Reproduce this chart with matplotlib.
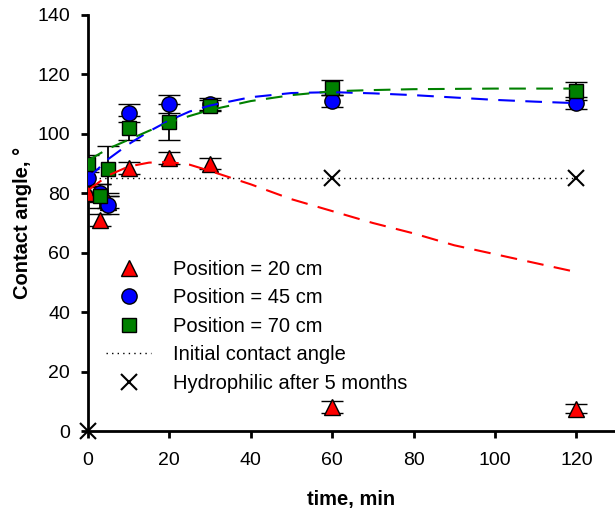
import numpy as np
import matplotlib
matplotlib.use('Agg')
import matplotlib.pyplot as plt
from matplotlib.lines import Line2D

plt.rcParams['font.family'] = ['Liberation Sans', 'DejaVu Sans']

# measured points
t = [0, 3, 5, 10, 20, 30, 60, 120]
pos20 = [80, 71, 77, 88.5, 92, 90, 8, 7.5]
pos20_err = [2.5, 2, 2, 2, 2, 2, 2, 1.5]
pos45 = [85, 80, 76, 107, 110, 110, 111, 110.5]
pos45_err = [3, 3, 3, 3, 3, 2, 2, 2]
pos70 = [90, 79, 88, 102, 104, 109.5, 115.5, 114.5]
pos70_err = [3, 4, 8, 4, 6, 2, 2.5, 3]

# fitted curves
fit_t = [0, 5, 10, 15, 20, 25, 30, 40, 50, 60, 70, 80, 90, 100, 110, 120]
fit20 = [81, 86, 89, 90.3, 90.5, 89.6, 87.5, 83, 78, 74, 70, 66.5, 62.5, 59.5, 56.5, 53.5]
fit45 = [85, 91.5, 96.5, 100.8, 104.5, 107.5, 109.5, 112.3, 113.7, 114, 113.6, 113, 112.2, 111.4, 110.8, 110.3]
fit70 = [91, 95, 98, 101, 103.8, 106, 108, 111, 113, 114.3, 114.7, 115, 115.1, 115.2, 115.2, 115.2]

initial_t = [0, 120]
initial_angle = [85, 85]
hydro_t = [0, 60, 120]
hydro_angle = [0, 85, 85]

fig = plt.figure(figsize=(6.15, 5.12), dpi=100)
ax = fig.add_axes([0.143, 0.158, 0.857, 0.813])

ebkw = dict(ecolor='k', elinewidth=1.3, capsize=8, capthick=1.3, linestyle='none',
            markeredgecolor='k', markeredgewidth=1, zorder=3)
ax.errorbar(t, pos20, yerr=pos20_err, marker='^', color='red', markersize=12, **ebkw)
ax.errorbar(t, pos45, yerr=pos45_err, marker='o', color='blue', markersize=11, **ebkw)
ax.errorbar(t, pos70, yerr=pos70_err, marker='s', color='green', markersize=10, **ebkw)

dash = (0, (8, 5))
ax.plot(fit_t, fit20, color='red', ls=dash, lw=1.5, zorder=4)
ax.plot(fit_t, fit45, color='blue', ls=dash, lw=1.5, zorder=4)
ax.plot(fit_t, fit70, color='green', ls=dash, lw=1.5, zorder=4)

ax.plot(initial_t, initial_angle, color='k', ls=(0, (1, 3)), lw=1, zorder=2)
ax.plot(hydro_t, hydro_angle, 'x', color='k', markersize=12, mew=1.5,
        clip_on=False, zorder=5)

ax.set_xlim(0, 129.5)
ax.set_ylim(0, 140)
ax.set_xticks(range(0, 121, 20))
ax.set_yticks(range(0, 141, 20))
for s in ['top', 'right']:
    ax.spines[s].set_visible(False)
for s in ['left', 'bottom']:
    ax.spines[s].set_linewidth(2)
ax.tick_params(width=2, length=5, labelsize=14)
ax.tick_params(axis='x', pad=10)
ax.tick_params(axis='y', pad=8)
ax.set_xlabel('time, min', fontsize=14.5, fontweight='bold', labelpad=15)
ax.set_ylabel('Contact angle, °', fontsize=14.5, fontweight='bold', labelpad=4)

mk = dict(linestyle='none', markeredgecolor='k', markeredgewidth=1)
handles = [
    Line2D([], [], marker='^', color='red', markersize=12, **mk),
    Line2D([], [], marker='o', color='blue', markersize=11, **mk),
    Line2D([], [], marker='s', color='green', markersize=10, **mk),
    Line2D([], [], color='k', ls=(0, (1, 3)), lw=1),
    Line2D([], [], marker='x', color='k', linestyle='none', markersize=12, mew=1.5),
]
labels = ['Position = 20 cm', 'Position = 45 cm', 'Position = 70 cm',
          'Initial contact angle', 'Hydrophilic after 5 months']
ax.legend(handles, labels, loc='lower left', bbox_to_anchor=(0.035, 0.092),
          borderaxespad=0, borderpad=0, frameon=False, fontsize=14.5,
          handlelength=2.2, labelspacing=0.47, handletextpad=1.1)

fig.savefig('out.png', dpi=100)
